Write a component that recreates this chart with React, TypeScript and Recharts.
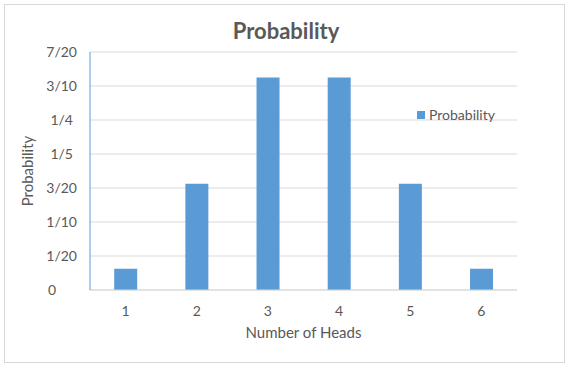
import React from 'react';
import { BarChart, Bar, XAxis, YAxis, CartesianGrid, Legend } from 'recharts';

const heads = ['1', '2', '3', '4', '5', '6'];
const probability = [1 / 32, 5 / 32, 10 / 32, 10 / 32, 5 / 32, 1 / 32];
const yTicks = [0, 0.05, 0.1, 0.15, 0.2, 0.25, 0.3, 0.35];
const yTickLabels = ['0', '1/20', '1/10', '3/20', '1/5', '1/4', '3/10', '7/20'];

const data = heads.map((h, i) => ({ heads: h, Probability: probability[i] }));

const FONT = 'Lato, "Open Sans", sans-serif';
const TEXT = '#595959';
const GRID = '#d9d9d9';
const BLUE = '#5b9bd5';

const YTick = (props: any) => {
  const { y, index } = props;
  const label = yTickLabels[index] ?? '';
  // excel "# ?/??" pads the missing fraction digits with blanks
  let pad = 0;
  if (label === '0') pad = 21;
  else if (label.split('/')[1]?.length === 1) pad = 4;
  return (
    <text x={77 - pad} y={y} dy={5} textAnchor="end" fontSize={14} fill={TEXT} fontFamily={FONT}>
      {label}
    </text>
  );
};

const YLabel = (props: any) => {
  const { viewBox } = props;
  const cy = viewBox.y + viewBox.height / 2;
  return (
    <text
      x={27}
      y={cy}
      transform={`rotate(-90, 27, ${cy})`}
      textAnchor="middle"
      dominantBaseline="central"
      fontSize={15}
      fill={TEXT}
      fontFamily={FONT}
    >
      Probability
    </text>
  );
};

const LegendBox = () => (
  <div style={{ display: 'flex', alignItems: 'center', fontFamily: FONT, fontSize: 14, color: TEXT }}>
    <span style={{ width: 8, height: 8, background: BLUE, display: 'inline-block', marginRight: 4 }} />
    Probability
  </div>
);

const App: React.FC = () => {
  return (
    <div style={{ position: 'absolute', left: 0, top: 0, width: 572, height: 368, background: '#fff' }}>
      <div
        style={{
          position: 'absolute', left: 4, top: 4, width: 561, height: 359,
          border: `1px solid ${GRID}`, boxSizing: 'border-box',
        }}
      />
      <div
        style={{
          position: 'absolute', left: 0, top: 17, width: 572, textAlign: 'center',
          fontFamily: FONT, fontSize: 22, fontWeight: 'bold', color: TEXT,
        }}
      >
        Probability
      </div>
      <BarChart
        width={572}
        height={368}
        data={data}
        margin={{ top: 52, right: 55, bottom: 48, left: 0 }}
        barCategoryGap="34%"
        style={{ position: 'absolute', left: 0, top: 0 }}
      >
        <CartesianGrid vertical={false} stroke={GRID} />
        <XAxis
          dataKey="heads"
          height={30}
          tickLine={false}
          axisLine={{ stroke: GRID }}
          tick={{ fontSize: 14, fill: TEXT, fontFamily: FONT }}
          tickMargin={10}
          label={{ value: 'Number of Heads', position: 'insideBottom', offset: -18, fontSize: 15, fill: TEXT, fontFamily: FONT }}
        />
        <YAxis
          width={90}
          domain={[0, 0.35]}
          ticks={yTicks}
          tickLine={false}
          axisLine={{ stroke: BLUE }}
          tick={<YTick />}
          label={<YLabel />}
        />
        <Legend
          layout="vertical"
          align="center"
          verticalAlign="middle"
          content={<LegendBox />}
          wrapperStyle={{ left: 417, top: 106, width: 100 }}
        />
        <Bar dataKey="Probability" fill={BLUE} isAnimationActive={false} />
      </BarChart>
    </div>
  );
};

export default App;
